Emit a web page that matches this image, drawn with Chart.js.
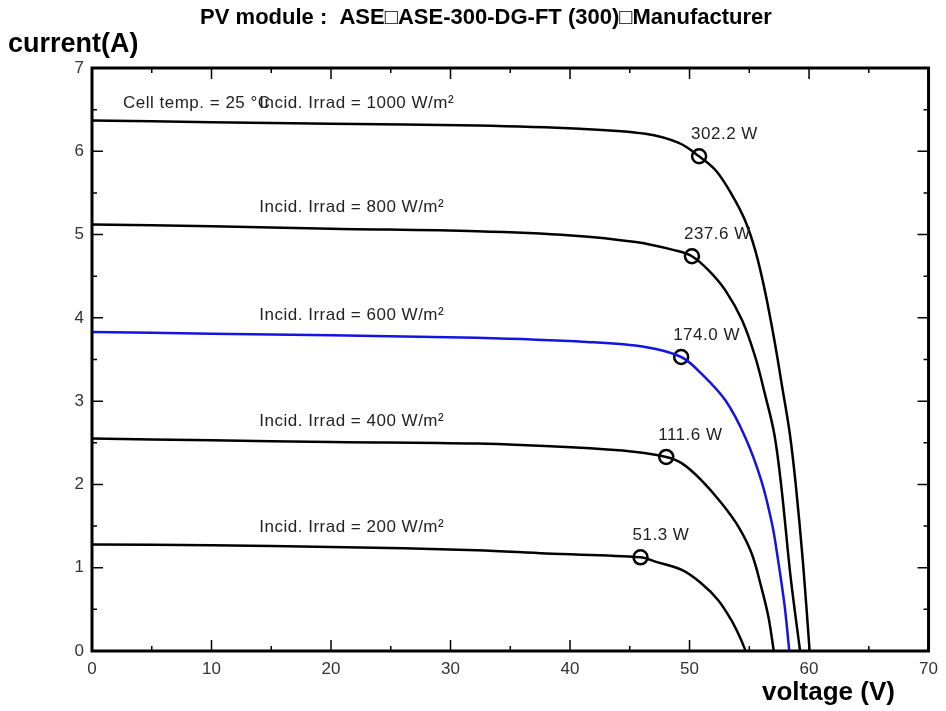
<!DOCTYPE html>
<html>
<head>
<meta charset="utf-8">
<script src="https://cdn.jsdelivr.net/npm/chart.js@4.4.1/dist/chart.umd.min.js"></script>
<style>
  html, body { margin: 0; padding: 0; background: #fff; }
  #wrap { width: 946px; height: 711px; }
</style>
</head>
<body>
<div id="wrap"><canvas id="ivChart" width="946" height="711"></canvas></div>
<script>
// I-V curves, one pair of arrays per irradiance
var irradiance = [1000, 800, 600, 400, 200];

var volt1000 = [0, 10, 20, 32.2, 40.8, 46.3, 49.1, 50.8, 52.2, 53.5, 54.65, 55.5, 56.3, 57.1, 57.8, 58.4, 58.9, 59.5, 60.05];
var curr1000 = [6.37, 6.35, 6.33, 6.31, 6.27, 6.21, 6.10, 5.94, 5.77, 5.49, 5.17, 4.81, 4.33, 3.73, 3.13, 2.6, 1.98, 1.05, 0];

var volt800 = [0, 10, 20, 32.2, 40.1, 45.5, 48.8, 50.2, 51.6, 53.0, 54.4, 55.5, 56.3, 57.1, 57.7, 58.45, 59.25];
var curr800 = [5.12, 5.10, 5.07, 5.04, 4.99, 4.91, 4.81, 4.74, 4.57, 4.33, 3.97, 3.53, 3.09, 2.6, 1.95, 0.9, 0];

var volt600 = [0, 10, 20, 32.2, 41.4, 46.3, 49.3, 51.0, 53.0, 54.65, 56.0, 56.9, 57.4, 57.95, 58.35];
var curr600 = [3.83, 3.81, 3.79, 3.76, 3.71, 3.65, 3.53, 3.33, 3.01, 2.57, 2.05, 1.53, 1.1, 0.55, 0];

var volt400 = [0, 10, 20, 32.2, 40.1, 45.5, 48.05, 49.4, 51.0, 52.7, 54.1, 55.2, 56.0, 56.6, 57.05];
var curr400 = [2.55, 2.53, 2.51, 2.49, 2.445, 2.39, 2.33, 2.25, 2.05, 1.77, 1.49, 1.17, 0.77, 0.41, 0];

var volt200 = [0, 10, 20, 32.2, 38, 45.9, 47.2, 49.4, 51.0, 52.4, 53.5, 54.2, 54.7];
var curr200 = [1.28, 1.27, 1.25, 1.21, 1.17, 1.125, 1.07, 0.97, 0.81, 0.61, 0.37, 0.17, 0];

// maximum power points
var mppVolt = [50.8, 50.2, 49.3, 48.05, 45.9];
var mppCurr = [5.94, 4.74, 3.53, 2.33, 1.125];
var mppLabel = ['302.2 W', '237.6 W', '174.0 W', '111.6 W', '51.3 W'];

var xTicks = [0, 10, 20, 30, 40, 50, 60, 70];
var yTicks = [0, 1, 2, 3, 4, 5, 6, 7];

var curves = [
    [volt1000, curr1000],
    [volt800, curr800],
    [volt600, curr600],
    [volt400, curr400],
    [volt200, curr200]
];
var curveColors = ['#000000', '#000000', '#1414e0', '#000000', '#000000'];

function toPoints(xs, ys) {
    return xs.map(function(x, i) { return {x: x, y: ys[i]}; });
}

var datasets = curves.map(function(c, i) {
    return {
        label: 'Incid. Irrad = ' + irradiance[i] + ' W/m²',
        data: toPoints(c[0], c[1]),
        borderColor: curveColors[i],
        borderWidth: 2.5,
        pointRadius: 0,
        tension: 0.35,
        showLine: true,
        fill: false
    };
});
datasets.push({
    label: 'MPP',
    data: toPoints(mppVolt, mppCurr),
    showLine: false,
    pointRadius: 7,
    pointBorderWidth: 2.5,
    pointBackgroundColor: '#ffffff',
    pointBorderColor: '#000000'
});

var textFont = '17px "Liberation Sans", Arial, sans-serif';

var framePlugin = {
    id: 'frame',
    afterDraw: function(chart) {
        var ctx = chart.ctx;
        var a = chart.chartArea;
        var xs = chart.scales.x, ys = chart.scales.y;
        ctx.save();
        ctx.strokeStyle = '#000';

        // ticks on all four sides, pointing in
        ctx.lineWidth = 1.5;
        ctx.beginPath();
        for (var v = 0; v <= 70; v += 5) {
            var px = xs.getPixelForValue(v);
            var len = (v % 10 === 0) ? 11 : 5;
            ctx.moveTo(px, a.bottom); ctx.lineTo(px, a.bottom - len);
            ctx.moveTo(px, a.top); ctx.lineTo(px, a.top + len);
        }
        for (var w = 0; w <= 7; w += 0.5) {
            var py = ys.getPixelForValue(w);
            var l2 = (w % 1 === 0) ? 11 : 5;
            ctx.moveTo(a.left, py); ctx.lineTo(a.left + l2, py);
            ctx.moveTo(a.right, py); ctx.lineTo(a.right - l2, py);
        }
        ctx.stroke();

        ctx.lineWidth = 3;
        ctx.strokeRect(a.left, a.top, a.right - a.left, a.bottom - a.top);

        // power labels next to the MPP circles
        ctx.fillStyle = '#222';
        ctx.font = textFont;
        ctx.letterSpacing = '0.5px';
        ctx.textAlign = 'left';
        ctx.textBaseline = 'middle';
        mppLabel.forEach(function(t, i) {
            var px = xs.getPixelForValue(mppVolt[i]);
            var py = ys.getPixelForValue(mppCurr[i]);
            ctx.fillText(t, px - 8, py - 22);
        });

        // irradiance labels above each curve
        curves.forEach(function(c, i) {
            var py = ys.getPixelForValue(c[1][0]);
            ctx.fillText('Incid. Irrad = ' + irradiance[i] + ' W/m²', xs.getPixelForValue(14), py - 17);
        });
        ctx.fillText('Cell temp. = 25 °C', 123, ys.getPixelForValue(curr1000[0]) - 17);
        ctx.letterSpacing = '0px';

        // title and axis names
        ctx.fillStyle = '#000';
        ctx.textAlign = 'center';
        ctx.font = 'bold 22px "Liberation Sans", Arial, sans-serif';
        ctx.fillText('PV module :  ASE\u25A1ASE-300-DG-FT (300)\u25A1Manufacturer', 486, 18);
        ctx.textAlign = 'left';
        ctx.font = 'bold 27px "Liberation Sans", Arial, sans-serif';
        ctx.fillText('current(A)', 8, 45);
        ctx.font = 'bold 26px "Liberation Sans", Arial, sans-serif';
        ctx.fillText('voltage (V)', 762, 693);
        ctx.restore();
    }
};

var ctx = document.getElementById('ivChart').getContext('2d');
var ivChart = new Chart(ctx, {
    type: 'scatter',
    data: { datasets: datasets },
    options: {
        responsive: false,
        animation: false,
        layout: { padding: { left: 0, right: 11, top: 68, bottom: 0 } },
        plugins: {
            legend: { display: false },
            tooltip: { enabled: false }
        },
        scales: {
            x: {
                type: 'linear',
                min: 0, max: 70,
                afterBuildTicks: function(s) { s.ticks = xTicks.map(function(v) { return {value: v}; }); },
                afterFit: function(s) { s.height = 60; },
                grid: { display: false, drawTicks: false },
                border: { display: false },
                ticks: { color: '#333', padding: 8, font: { family: '"Liberation Sans", Arial, sans-serif', size: 17 } }
            },
            y: {
                type: 'linear',
                min: 0, max: 7,
                afterBuildTicks: function(s) { s.ticks = yTicks.map(function(v) { return {value: v}; }); },
                afterFit: function(s) { s.width = 92; },
                grid: { display: false, drawTicks: false },
                border: { display: false },
                ticks: { color: '#333', padding: 8, font: { family: '"Liberation Sans", Arial, sans-serif', size: 17 } }
            }
        }
    },
    plugins: [framePlugin]
});
</script>
</body>
</html>
